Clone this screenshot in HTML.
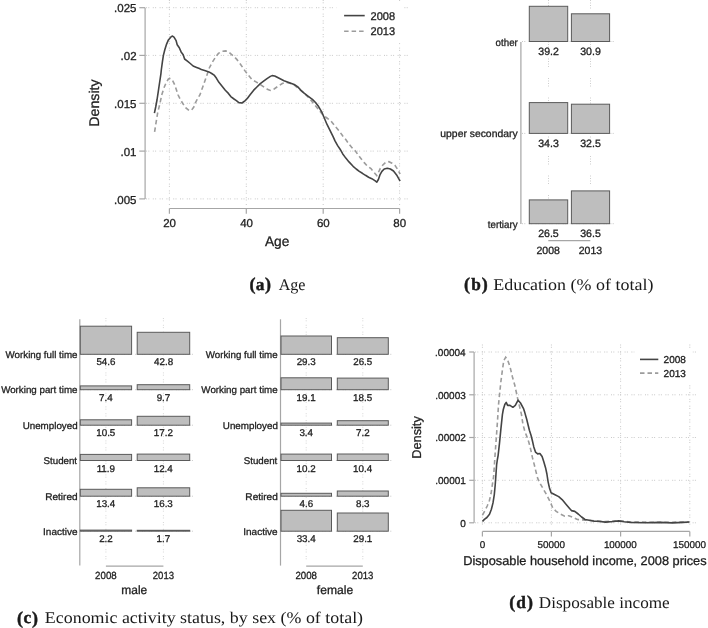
<!DOCTYPE html>
<html><head><meta charset="utf-8"><style>
html,body{margin:0;padding:0;background:#fff;}
svg{display:block;will-change:transform;text-rendering:geometricPrecision;}
text{font-family:"Liberation Sans",sans-serif;fill:#1e1e1e;stroke:#1e1e1e;stroke-width:0.3px;}
.cap{font-family:"Liberation Serif",serif;fill:#1a1a1a;stroke:none;}
.capb{font-weight:bold;stroke:#1a1a1a;stroke-width:0.45px;}
.gh{stroke:#c8c8c8;stroke-width:1;stroke-dasharray:1 1.3 1 3.5;fill:none;}
.gv{stroke:#c8c8c8;stroke-width:1;stroke-dasharray:1 1.3 1 3.5;fill:none;}
.gv2{stroke:#cdcdcd;stroke-width:1;stroke-dasharray:1 1.5 1 1.5 1 1.5 1 11;fill:none;}
.gv3{stroke:#d6d6d6;stroke-width:1;stroke-dasharray:1 1.3 1 3.5;fill:none;}
.ax{stroke:#a6a6a6;stroke-width:1.2;fill:none;}
.so{stroke:#444444;stroke-width:1.6;fill:none;stroke-linejoin:round;}
.ds{stroke:#9c9c9c;stroke-width:1.6;fill:none;stroke-dasharray:4.5 3;}
.bar{fill:#bebebe;stroke:#5a5a5a;stroke-width:1;}
</style></head><body>
<svg width="708" height="628" viewBox="0 0 708 628">
<rect width="708" height="628" fill="#fff"/>
<line x1="146" y1="7.7" x2="409" y2="7.7" class="gh"/>
<line x1="146" y1="55.4" x2="409" y2="55.4" class="gh"/>
<line x1="146" y1="103.3" x2="409" y2="103.3" class="gh"/>
<line x1="146" y1="151.1" x2="409" y2="151.1" class="gh"/>
<line x1="146" y1="198.9" x2="409" y2="198.9" class="gh"/>
<line x1="169.4" y1="0" x2="169.4" y2="206" class="gv"/>
<line x1="246.3" y1="0" x2="246.3" y2="206" class="gv"/>
<line x1="323.2" y1="0" x2="323.2" y2="206" class="gv"/>
<line x1="399.6" y1="0" x2="399.6" y2="206" class="gv"/>
<line x1="145.1" y1="7.7" x2="145.1" y2="198.9" class="ax"/>
<line x1="139.3" y1="7.7" x2="145.1" y2="7.7" class="ax"/>
<text x="114.09" y="12.30" font-size="11.5">.025</text>
<line x1="139.3" y1="55.4" x2="145.1" y2="55.4" class="ax"/>
<text x="120.59" y="60.00" font-size="11.5">.02</text>
<line x1="139.3" y1="103.3" x2="145.1" y2="103.3" class="ax"/>
<text x="114.09" y="107.90" font-size="11.5">.015</text>
<line x1="139.3" y1="151.1" x2="145.1" y2="151.1" class="ax"/>
<text x="120.53" y="155.70" font-size="11.5">.01</text>
<line x1="139.3" y1="198.9" x2="145.1" y2="198.9" class="ax"/>
<text x="114.09" y="203.50" font-size="11.5">.005</text>
<line x1="169.4" y1="208.5" x2="399.6" y2="208.5" class="ax"/>
<line x1="169.4" y1="208.5" x2="169.4" y2="213.7" class="ax"/>
<text x="163.13" y="226.80" font-size="11.5">20</text>
<line x1="246.3" y1="208.5" x2="246.3" y2="213.7" class="ax"/>
<text x="240.20" y="226.80" font-size="11.5">40</text>
<line x1="323.2" y1="208.5" x2="323.2" y2="213.7" class="ax"/>
<text x="316.93" y="226.80" font-size="11.5">60</text>
<line x1="399.6" y1="208.5" x2="399.6" y2="213.7" class="ax"/>
<text x="393.36" y="226.80" font-size="11.5">80</text>
<text x="264.90" y="245.60" font-size="13.9" textLength="24.41" lengthAdjust="spacingAndGlyphs">Age</text>
<text transform="translate(98.90,102.50) rotate(-90)" x="-24.34" y="0" font-size="14" textLength="47.53" lengthAdjust="spacingAndGlyphs">Density</text>
<polyline points="154.6,131.8 156.1,122.3 157.7,112.7 160.0,103.2 161.8,94.8 164.0,87.8 166.2,82.5 168.4,79.0 170.1,78.6 172.3,79.9 174.5,84.3 176.3,89.5 178.0,94.8 180.2,99.2 182.8,103.5 185.9,107.9 189.0,110.5 191.6,110.1 193.8,107.0 195.5,102.7 197.7,98.3 199.9,94.9 203.0,86.3 206.1,77.5 209.3,68.0 212.1,62.6 215.6,57.0 218.4,53.4 222.0,51.3 225.5,50.9 228.3,51.7 231.1,54.1 234.0,56.6 236.8,59.4 240.3,64.0 242.8,67.6 245.0,70.9 248.4,75.2 251.8,79.4 256.0,81.9 260.3,84.5 264.5,87.5 267.9,89.6 270.4,90.4 273.8,89.2 278.1,86.2 282.3,83.6 285.7,82.4 289.9,83.2 294.2,84.9 299.2,89.2 302.5,92.0 306.2,95.2 310.4,99.4 314.5,104.6 318.6,109.7 322.8,114.9 326.9,118.0 331.1,121.1 335.2,126.3 339.5,131.4 342.6,135.8 345.8,139.6 349.0,144.1 352.2,147.9 355.4,151.1 358.6,155.6 360.9,158.5 364.0,162.4 367.1,165.9 371.0,168.6 374.1,172.5 376.8,175.6 378.4,172.5 380.3,168.3 382.6,165.2 385.7,162.4 388.9,161.7 392.0,163.2 395.1,165.5 397.4,169.0 400.1,174.1" class="ds"/>
<polyline points="154.4,113.1 155.7,107.0 157.0,100.0 158.3,91.3 159.6,82.5 160.9,73.8 161.3,70.0 162.4,61.8 163.4,55.4 164.8,49.8 166.6,44.1 168.4,39.9 170.5,37.4 172.2,36.0 174.0,37.1 176.1,40.6 177.2,44.8 179.3,47.7 181.1,51.9 183.2,54.7 184.6,59.0 187.4,61.1 190.3,63.5 193.1,66.0 196.6,67.4 199.4,68.5 201.4,69.6 205.4,70.7 208.9,71.9 211.7,73.5 214.1,75.1 216.5,78.3 218.9,82.3 222.1,86.3 225.3,90.3 228.4,93.4 230.8,96.6 234.0,99.0 236.4,100.6 238.8,102.6 242.0,103.0 245.2,100.6 247.5,98.2 250.1,94.7 253.5,90.4 256.9,87.0 260.3,83.6 263.6,81.1 267.0,78.6 270.4,76.4 272.1,75.6 274.7,76.0 277.2,77.3 280.6,79.0 284.0,80.7 287.4,81.9 290.8,83.2 294.2,84.5 297.5,86.6 300.5,89.8 304.1,93.2 308.3,96.3 312.4,99.4 315.5,102.5 318.6,106.6 321.7,111.8 324.3,118.0 326.9,124.2 330.0,130.4 333.1,136.7 335.0,140.9 337.5,145.4 340.1,149.2 342.6,153.7 345.8,158.1 349.0,161.9 353.1,166.3 356.2,169.0 359.3,171.4 362.4,173.3 365.5,175.3 368.6,177.2 371.8,178.7 374.9,180.7 376.8,182.2 378.4,179.5 379.9,174.9 381.9,171.4 384.2,169.0 387.3,168.3 390.4,169.0 393.5,171.0 396.6,174.9 400.1,181.1" class="so"/>
<rect x="336.5" y="1.5" width="67" height="40.5" fill="#fff"/>
<line x1="344.1" y1="15.6" x2="364.7" y2="15.6" class="so"/>
<line x1="344.1" y1="31.3" x2="364.7" y2="31.3" class="ds" stroke-dasharray="4.7 3.4"/>
<text x="370.55" y="19.70" font-size="11.2" textLength="24.59" lengthAdjust="spacingAndGlyphs">2008</text>
<text x="370.55" y="35.30" font-size="11.2" textLength="24.59" lengthAdjust="spacingAndGlyphs">2013</text>
<line x1="522" y1="41.5" x2="615" y2="41.5" class="gh"/>
<line x1="522" y1="133.4" x2="615" y2="133.4" class="gh"/>
<line x1="522" y1="223.7" x2="615" y2="223.7" class="gh"/>
<line x1="548.5" y1="0" x2="548.5" y2="238" class="gv2"/>
<line x1="590.5" y1="0" x2="590.5" y2="238" class="gv2"/>
<line x1="520.9" y1="42" x2="520.9" y2="224" class="ax"/>
<rect x="529.3" y="6.3" width="38.4" height="35.2" class="bar"/>
<text x="538.24" y="54.80" font-size="10.6">39.2</text>
<rect x="571.4" y="13.8" width="38.2" height="27.7" class="bar"/>
<text x="580.22" y="54.80" font-size="10.6">30.9</text>
<text x="495.61" y="46.10" font-size="10.3" textLength="22.18" lengthAdjust="spacingAndGlyphs">other</text>
<rect x="529.3" y="102.6" width="38.4" height="30.8" class="bar"/>
<text x="538.19" y="146.70" font-size="10.6">34.3</text>
<rect x="571.4" y="104.2" width="38.2" height="29.2" class="bar"/>
<text x="580.19" y="146.70" font-size="10.6">32.5</text>
<text x="440.33" y="137.40" font-size="10.3" textLength="77.27" lengthAdjust="spacingAndGlyphs">upper secondary</text>
<rect x="529.3" y="199.9" width="38.4" height="23.8" class="bar"/>
<text x="538.14" y="237.00" font-size="10.6">26.5</text>
<rect x="571.4" y="190.9" width="38.2" height="32.8" class="bar"/>
<text x="580.19" y="237.00" font-size="10.6">36.5</text>
<text x="487.75" y="227.70" font-size="10.3" textLength="29.86" lengthAdjust="spacingAndGlyphs">tertiary</text>
<line x1="548.3" y1="240.6" x2="590.3" y2="240.6" class="ax" stroke-width="1"/>
<text x="536.47" y="253.60" font-size="10.5">2008</text>
<text x="578.77" y="253.60" font-size="10.5">2013</text>
<line x1="105.9" y1="318" x2="105.9" y2="562" class="gv3"/>
<line x1="163.4" y1="318" x2="163.4" y2="562" class="gv3"/>
<line x1="80.8" y1="354.3" x2="193.7" y2="354.3" class="gh"/>
<line x1="80.8" y1="389.7" x2="193.7" y2="389.7" class="gh"/>
<line x1="80.8" y1="425.2" x2="193.7" y2="425.2" class="gh"/>
<line x1="80.8" y1="460.5" x2="193.7" y2="460.5" class="gh"/>
<line x1="80.8" y1="496.2" x2="193.7" y2="496.2" class="gh"/>
<line x1="80.8" y1="531.2" x2="193.7" y2="531.2" class="gh"/>
<line x1="79.8" y1="319.3" x2="79.8" y2="565.6" class="ax"/>
<rect x="80.3" y="326.2" width="51.3" height="28.1" class="bar"/>
<text x="96.42" y="365.30" font-size="9.8">54.6</text>
<rect x="137.2" y="332.3" width="52.5" height="22.0" class="bar"/>
<text x="154.02" y="365.30" font-size="9.8">42.8</text>
<text x="5.55" y="357.90" font-size="9.7" textLength="71.91" lengthAdjust="spacingAndGlyphs">Working full time</text>
<rect x="80.3" y="385.9" width="51.3" height="3.8" class="bar"/>
<text x="99.04" y="400.70" font-size="9.8">7.4</text>
<rect x="137.2" y="384.7" width="52.5" height="5.0" class="bar"/>
<text x="156.66" y="400.70" font-size="9.8">9.7</text>
<text x="1.15" y="393.30" font-size="9.7" textLength="76.31" lengthAdjust="spacingAndGlyphs">Working part time</text>
<rect x="80.3" y="419.8" width="51.3" height="5.4" class="bar"/>
<text x="96.25" y="436.20" font-size="9.8">10.5</text>
<rect x="137.2" y="416.3" width="52.5" height="8.9" class="bar"/>
<text x="153.80" y="436.20" font-size="9.8">17.2</text>
<text x="22.67" y="428.80" font-size="9.7" textLength="54.97" lengthAdjust="spacingAndGlyphs">Unemployed</text>
<rect x="80.3" y="454.4" width="51.3" height="6.1" class="bar"/>
<text x="96.64" y="471.50" font-size="9.8">11.9</text>
<rect x="137.2" y="454.1" width="52.5" height="6.4" class="bar"/>
<text x="153.70" y="471.50" font-size="9.8">12.4</text>
<text x="43.56" y="464.10" font-size="9.7" textLength="33.51" lengthAdjust="spacingAndGlyphs">Student</text>
<rect x="80.3" y="489.3" width="51.3" height="6.9" class="bar"/>
<text x="96.20" y="507.20" font-size="9.8">13.4</text>
<rect x="137.2" y="487.8" width="52.5" height="8.4" class="bar"/>
<text x="153.75" y="507.20" font-size="9.8">16.3</text>
<text x="45.19" y="499.80" font-size="9.7" textLength="32.45" lengthAdjust="spacingAndGlyphs">Retired</text>
<rect x="80.3" y="530.1" width="51.3" height="1.1" class="bar"/>
<text x="99.14" y="542.20" font-size="9.8">2.2</text>
<rect x="137.2" y="530.3" width="52.5" height="0.9" class="bar"/>
<text x="156.52" y="542.20" font-size="9.8">1.7</text>
<text x="43.10" y="534.80" font-size="9.7" textLength="34.36" lengthAdjust="spacingAndGlyphs">Inactive</text>
<line x1="105.9" y1="566.2" x2="163.4" y2="566.2" class="ax" stroke-width="1"/>
<text x="95.12" y="578.80" font-size="10.4" textLength="21.57" lengthAdjust="spacingAndGlyphs">2008</text>
<text x="152.77" y="578.80" font-size="10.4" textLength="21.26" lengthAdjust="spacingAndGlyphs">2013</text>
<text x="121.27" y="594.20" font-size="12" textLength="25.95" lengthAdjust="spacingAndGlyphs">male</text>
<line x1="306.2" y1="318" x2="306.2" y2="562" class="gv3"/>
<line x1="362.8" y1="318" x2="362.8" y2="562" class="gv3"/>
<line x1="281.5" y1="354.3" x2="392.3" y2="354.3" class="gh"/>
<line x1="281.5" y1="389.7" x2="392.3" y2="389.7" class="gh"/>
<line x1="281.5" y1="425.2" x2="392.3" y2="425.2" class="gh"/>
<line x1="281.5" y1="460.5" x2="392.3" y2="460.5" class="gh"/>
<line x1="281.5" y1="496.2" x2="392.3" y2="496.2" class="gh"/>
<line x1="281.5" y1="531.2" x2="392.3" y2="531.2" class="gh"/>
<line x1="280.5" y1="319.3" x2="280.5" y2="565.6" class="ax"/>
<rect x="281" y="336.0" width="50.5" height="18.3" class="bar"/>
<text x="296.67" y="365.30" font-size="9.8">29.3</text>
<rect x="337.3" y="337.7" width="51.0" height="16.6" class="bar"/>
<text x="353.22" y="365.30" font-size="9.8">26.5</text>
<text x="205.75" y="357.90" font-size="9.7" textLength="71.91" lengthAdjust="spacingAndGlyphs">Working full time</text>
<rect x="281" y="377.8" width="50.5" height="11.9" class="bar"/>
<text x="296.57" y="400.70" font-size="9.8">19.1</text>
<rect x="337.3" y="378.1" width="51.0" height="11.6" class="bar"/>
<text x="353.10" y="400.70" font-size="9.8">18.5</text>
<text x="201.35" y="393.30" font-size="9.7" textLength="76.31" lengthAdjust="spacingAndGlyphs">Working part time</text>
<rect x="281" y="423.1" width="50.5" height="2.1" class="bar"/>
<text x="299.39" y="436.20" font-size="9.8">3.4</text>
<rect x="337.3" y="420.7" width="51.0" height="4.5" class="bar"/>
<text x="355.99" y="436.20" font-size="9.8">7.2</text>
<text x="222.87" y="428.80" font-size="9.7" textLength="54.97" lengthAdjust="spacingAndGlyphs">Unemployed</text>
<rect x="281" y="454.1" width="50.5" height="6.4" class="bar"/>
<text x="296.60" y="471.50" font-size="9.8">10.2</text>
<rect x="337.3" y="454.0" width="51.0" height="6.5" class="bar"/>
<text x="353.05" y="471.50" font-size="9.8">10.4</text>
<text x="243.76" y="464.10" font-size="9.7" textLength="33.51" lengthAdjust="spacingAndGlyphs">Student</text>
<rect x="281" y="493.3" width="50.5" height="2.9" class="bar"/>
<text x="299.54" y="507.20" font-size="9.8">4.6</text>
<rect x="337.3" y="491.0" width="51.0" height="5.2" class="bar"/>
<text x="355.96" y="507.20" font-size="9.8">8.3</text>
<text x="245.39" y="499.80" font-size="9.7" textLength="32.45" lengthAdjust="spacingAndGlyphs">Retired</text>
<rect x="281" y="510.3" width="50.5" height="20.9" class="bar"/>
<text x="296.67" y="542.20" font-size="9.8">33.4</text>
<rect x="337.3" y="513.0" width="51.0" height="18.2" class="bar"/>
<text x="353.25" y="542.20" font-size="9.8">29.1</text>
<text x="243.30" y="534.80" font-size="9.7" textLength="34.36" lengthAdjust="spacingAndGlyphs">Inactive</text>
<line x1="306.2" y1="566.2" x2="362.8" y2="566.2" class="ax" stroke-width="1"/>
<text x="295.42" y="578.80" font-size="10.4" textLength="21.57" lengthAdjust="spacingAndGlyphs">2008</text>
<text x="352.12" y="578.80" font-size="10.4" textLength="21.26" lengthAdjust="spacingAndGlyphs">2013</text>
<text x="316.82" y="594.20" font-size="12" textLength="36.35" lengthAdjust="spacingAndGlyphs">female</text>
<line x1="475" y1="352.0" x2="696" y2="352.0" class="gh"/>
<line x1="475" y1="394.8" x2="696" y2="394.8" class="gh"/>
<line x1="475" y1="437.5" x2="696" y2="437.5" class="gh"/>
<line x1="475" y1="480.3" x2="696" y2="480.3" class="gh"/>
<line x1="475" y1="522.8" x2="696" y2="522.8" class="gh"/>
<line x1="482.4" y1="344.5" x2="482.4" y2="528" class="gv"/>
<line x1="551.4" y1="344.5" x2="551.4" y2="528" class="gv"/>
<line x1="620.6" y1="344.5" x2="620.6" y2="528" class="gv"/>
<line x1="689.8" y1="344.5" x2="689.8" y2="528" class="gv"/>
<line x1="474.1" y1="352" x2="474.1" y2="522.8" class="ax"/>
<line x1="469.2" y1="352.0" x2="474.1" y2="352.0" class="ax"/>
<text x="435.10" y="355.90" font-size="10">.00004</text>
<line x1="469.2" y1="394.8" x2="474.1" y2="394.8" class="ax"/>
<text x="435.20" y="398.70" font-size="10">.00003</text>
<line x1="469.2" y1="437.5" x2="474.1" y2="437.5" class="ax"/>
<text x="435.30" y="441.40" font-size="10">.00002</text>
<line x1="469.2" y1="480.3" x2="474.1" y2="480.3" class="ax"/>
<text x="435.25" y="484.20" font-size="10">.00001</text>
<line x1="469.2" y1="522.8" x2="474.1" y2="522.8" class="ax"/>
<text x="460.20" y="526.70" font-size="10">0</text>
<line x1="482.4" y1="531.4" x2="689.8" y2="531.4" class="ax"/>
<line x1="482.4" y1="531.4" x2="482.4" y2="536.5" class="ax"/>
<text x="479.63" y="547.60" font-size="9.9">0</text>
<line x1="551.4" y1="531.4" x2="551.4" y2="536.5" class="ax"/>
<text x="537.61" y="547.60" font-size="9.9">50000</text>
<line x1="620.6" y1="531.4" x2="620.6" y2="536.5" class="ax"/>
<text x="603.89" y="547.60" font-size="9.9">100000</text>
<line x1="689.8" y1="531.4" x2="689.8" y2="536.5" class="ax"/>
<text x="673.09" y="547.60" font-size="9.9">150000</text>
<text x="463.18" y="564.50" font-size="12.7" textLength="243.44" lengthAdjust="spacingAndGlyphs">Disposable household income, 2008 prices</text>
<text transform="translate(421.00,437.00) rotate(-90)" x="-21.82" y="0" font-size="12.8" textLength="42.62" lengthAdjust="spacingAndGlyphs">Density</text>
<polyline points="482.5,515.0 485.0,510.5 487.2,506.0 489.5,500.3 491.1,493.3 492.3,485.0 493.6,476.7 494.4,465.0 495.2,452.8 496.6,433.7 497.6,419.3 498.5,405.0 499.5,394.9 500.9,381.5 502.4,370.1 503.8,360.5 505.7,357.2 507.6,360.0 510.0,366.7 512.4,376.8 514.8,385.3 516.7,394.0 518.1,400.6 520.0,408.3 521.5,414.6 522.9,424.1 525.0,432.0 526.8,436.4 528.9,442.5 530.7,449.5 532.4,457.4 534.2,464.4 535.9,471.4 537.7,478.4 539.2,481.8 543.5,489.4 546.9,495.3 550.3,502.1 552.8,508.1 556.2,511.4 560.4,514.0 564.7,516.1 568.9,515.7 573.1,517.4 577.4,519.5 581.6,519.9 589.2,520.3 594.3,520.8 605.5,521.6 618.7,520.6 630.4,522.0 659.9,522.3 689.4,522.0" class="ds"/>
<polyline points="482.5,521.4 484.4,519.4 486.9,517.5 489.5,514.3 491.4,509.2 493.0,502.9 494.3,494.6 495.2,485.0 495.8,476.7 496.6,465.0 497.3,460.0 498.1,455.6 499.5,443.2 500.9,428.9 502.4,414.6 503.3,409.5 504.8,404.5 506.2,402.4 507.6,405.4 510.0,405.4 512.9,407.3 515.3,405.4 518.1,400.2 520.5,403.0 523.4,408.3 524.8,412.6 526.7,419.3 528.1,425.0 529.4,430.3 531.1,435.5 532.4,440.8 533.8,446.9 535.5,452.1 537.7,453.9 539.9,453.5 542.1,456.5 543.8,461.8 545.6,467.9 546.9,474.0 548.1,481.8 549.4,487.7 551.1,492.8 554.5,494.5 558.7,496.6 562.1,499.6 566.4,504.7 571.4,510.6 574.8,511.4 578.2,514.0 581.6,517.0 585.0,519.5 589.2,520.3 594.3,521.2 597.8,521.2 605.5,522.1 613.3,521.5 618.7,520.9 624.2,521.7 630.4,522.4 644.4,522.7 659.9,522.4 672.3,522.9 683.2,522.4 689.4,522.0" class="so"/>
<rect x="634.5" y="348.5" width="58" height="35" fill="#fff"/>
<line x1="640" y1="359.4" x2="658.3" y2="359.4" class="so"/>
<line x1="640" y1="373.1" x2="658.3" y2="373.1" class="ds" stroke-dasharray="4 3.2"/>
<text x="663.60" y="362.80" font-size="10" textLength="22.30" lengthAdjust="spacingAndGlyphs">2008</text>
<text x="663.60" y="376.60" font-size="10" textLength="22.30" lengthAdjust="spacingAndGlyphs">2013</text>
<text x="249.49" y="290.40" font-size="18.0" class="cap capb">(</text>
<text x="264.88" y="290.40" font-size="18.0" class="cap capb">)</text>
<text x="255.75" y="290.10" font-size="17.278000000000002" class="cap capb">a</text>
<text x="278.64" y="290.10" font-size="16.3" textLength="26.84" lengthAdjust="spacingAndGlyphs" class="cap" fill="#1a1a1a">Age</text>
<text x="463.89" y="290.40" font-size="18.0" class="cap capb">(</text>
<text x="481.68" y="290.40" font-size="18.0" class="cap capb">)</text>
<text x="471.26" y="290.10" font-size="17.278000000000002" class="cap capb">b</text>
<text x="493.16" y="290.10" font-size="16.3" textLength="160.32" lengthAdjust="spacingAndGlyphs" class="cap" fill="#1a1a1a">Education (% of total)</text>
<text x="16.89" y="623.50" font-size="18.0" class="cap capb">(</text>
<text x="32.08" y="623.50" font-size="18.0" class="cap capb">)</text>
<text x="23.57" y="623.20" font-size="17.278000000000002" class="cap capb">c</text>
<text x="44.86" y="623.20" font-size="16.3" textLength="318.21" lengthAdjust="spacingAndGlyphs" class="cap" fill="#1a1a1a">Economic activity status, by sex (% of total)</text>
<text x="509.29" y="608.20" font-size="18.0" class="cap capb">(</text>
<text x="527.08" y="608.20" font-size="18.0" class="cap capb">)</text>
<text x="516.15" y="607.90" font-size="17.278000000000002" class="cap capb">d</text>
<text x="538.79" y="607.90" font-size="16.3" textLength="130.86" lengthAdjust="spacingAndGlyphs" class="cap" fill="#1a1a1a">Disposable income</text>
</svg>
</body></html>
